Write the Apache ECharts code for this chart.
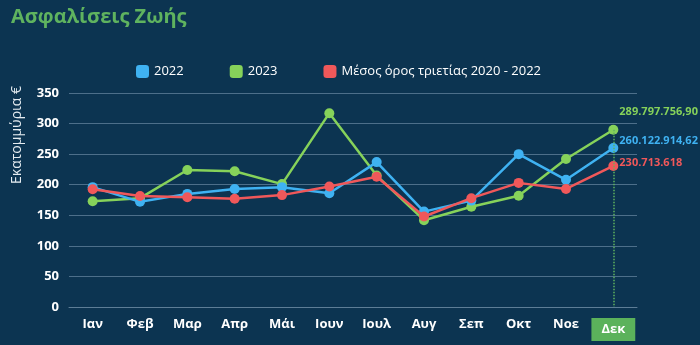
<!DOCTYPE html>
<html><head><meta charset="utf-8">
<script src="https://cdn.jsdelivr.net/npm/echarts@6/dist/echarts.min.js"></script>
<style>html,body{margin:0;padding:0;background:#0c3451;}#c{width:700px;height:345px;}</style>
</head><body><div id="c"></div>
<script>
var categories = ['Ιαν','Φεβ','Μαρ','Απρ','Μάι','Ιουν','Ιουλ','Αυγ','Σεπ','Οκτ','Νοε','Δεκ'];
var values2022 = [196, 172, 185, 193, 196, 186, 237, 156, 174, 250, 208, 260.122914];
var values2023 = [173, 178, 224, 222, 201, 317, 215, 142, 164, 182, 242, 289.797757];
var valuesAvg = [192.5, 181.5, 179.5, 177, 183, 197, 213, 148, 178, 203, 193, 230.713618];
var yTicks = [0, 50, 100, 150, 200, 250, 300, 350];
var endLabels = ['260.122.914,62', '289.797.756,90', '230.713.618'];
var seriesNames = ['2022', '2023', 'Μέσος όρος τριετίας 2020 - 2022'];
var colors = ['#3fb2f2', '#86d25a', '#f0585a'];
var FONT = 'Open Sans';

function withEndLabel(vals, idx, offsetY) {
  return vals.map(function (v, i) {
    if (i === vals.length - 1) {
      return { value: v, label: { show: true, position: 'right', distance: 1, offset: [0, offsetY],
        formatter: endLabels[idx], color: colors[idx], fontWeight: 'bold', fontSize: 11, fontFamily: FONT } };
    }
    return v;
  });
}

var chart = echarts.init(document.getElementById('c'));
chart.setOption({
  backgroundColor: '#0c3451',
  animation: false,
  title: { text: 'Ασφαλίσεις Ζωής', left: 6, top: 2,
    textStyle: { color: '#5fb35f', fontSize: 20, fontWeight: 'bold', fontFamily: FONT } },
  legend: { top: 60, left: 131, itemGap: 46, itemWidth: 13, itemHeight: 13, icon: 'roundRect',
    textStyle: { color: '#ffffff', fontSize: 13, fontFamily: FONT },
    data: seriesNames },
  graphic: [{ type: 'text', left: 10, top: 86, rotation: Math.PI / 2, 
    style: { text: 'Εκατομμύρια €', fill: '#e4ebf0', fontSize: 14, fontFamily: FONT } }],
  grid: { left: 69, right: 63, top: 93, bottom: 38 },
  xAxis: { type: 'category', data: categories, boundaryGap: true,
    axisLine: { lineStyle: { color: '#5d7d96' } }, axisTick: { show: false },
    axisLabel: { interval: 0, color: '#ffffff', fontWeight: 'bold', fontSize: 13, fontFamily: FONT, margin: 11,
      formatter: function (v) { return v === 'Δεκ' ? '{hl|' + v + '}' : v; },
      rich: { hl: { backgroundColor: '#5bb25b', color: '#ffffff', fontWeight: 'bold', fontSize: 13,
        fontFamily: FONT, padding: [5, 10, 5, 10] } } } },
  yAxis: { type: 'value', min: yTicks[0], max: yTicks[yTicks.length - 1], interval: 50,
    axisLine: { show: false }, axisTick: { show: false },
    splitLine: { lineStyle: { color: '#4d6f8a', width: 1 } },
    axisLabel: { color: '#ffffff', fontWeight: 'bold', fontSize: 13, fontFamily: FONT, margin: 10 } },
  series: [
    { name: seriesNames[0], type: 'line', data: withEndLabel(values2022, 0, -7), color: colors[0],
      symbol: 'circle', symbolSize: 10, lineStyle: { width: 2.5 }, z: 3 },
    { name: seriesNames[1], type: 'line', data: withEndLabel(values2023, 1, -18), color: colors[1],
      symbol: 'circle', symbolSize: 10, lineStyle: { width: 2.5 }, z: 2,
      markLine: { symbol: 'none', silent: true, label: { show: false },
        lineStyle: { color: '#5fb35f', type: 'dotted', width: 1.5 },
        data: [[{ coord: ['Δεκ', values2023[11]] }, { coord: ['Δεκ', 0] }]] } },
    { name: seriesNames[2], type: 'line', data: withEndLabel(valuesAvg, 2, -3), color: colors[2],
      symbol: 'circle', symbolSize: 10, lineStyle: { width: 2.5 }, z: 4 }
  ]
});
</script></body></html>
